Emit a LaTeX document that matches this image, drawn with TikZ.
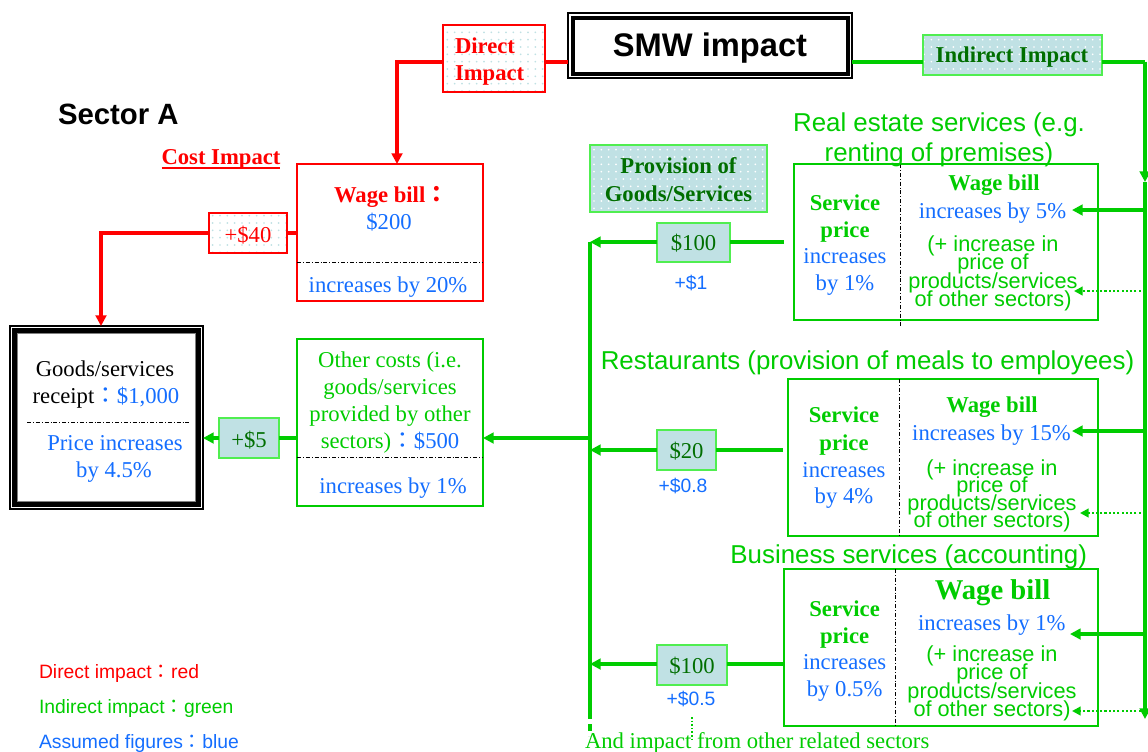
\documentclass[tikz,border=0pt]{standalone}
\usepackage{fontspec}
\setmainfont{Liberation Serif}
\setsansfont{Liberation Sans}
\newfontfamily\cjkfont{Noto Sans CJK TC}
\usetikzlibrary{arrows.meta,patterns.meta,fit}

\definecolor{rd}{RGB}{255,0,0}
\definecolor{gr}{RGB}{0,204,0}
\definecolor{bl}{RGB}{20,110,255}
\definecolor{dg}{RGB}{0,110,0}
\definecolor{lb}{RGB}{192,225,228}
\definecolor{lg}{RGB}{80,238,80}

\newcommand\fs[2]{\fontsize{#1}{#2}\selectfont}
\newcommand\wcolon{{\cjkfont ：}}

\begin{document}
\begin{tikzpicture}[x=0.75pt,y=-0.75pt,
  >={Triangle[length=8pt,width=8pt]},
  every node/.style={inner sep=0pt, outer sep=0pt},
  lbl/.style={anchor=base},
  lblw/.style={anchor=base west},
  serif/.style={font=\fs{17}{20}},
  serifb/.style={font=\bfseries\fs{17}{20}},
  note/.style={font=\sffamily\fs{16.3}{14}, text=gr},
  small/.style={font=\sffamily\fs{14.5}{17}},
  title/.style={font=\sffamily\fs{19.4}{23}, text=gr},
  rbox/.style={draw=rd, line width=1.5pt, fill=white},
  gbox/.style={draw=gr, line width=1.5pt, fill=white},
  sbox/.style={draw=gr, line width=1.1pt, fill=white},
  valbox/.style={draw=lg, line width=1pt, fill=lb},
  dotw/.style={preaction={fill=white}, pattern={Dots[distance=5.5pt,radius=0.7pt]}, pattern color=lb},
  dotb/.style={preaction={fill=lb}, pattern={Dots[distance=5.5pt,radius=0.7pt]}, pattern color=white},
  rline/.style={draw=rd, line width=3pt},
  gline/.style={draw=gr, line width=3pt},
  gdot/.style={draw=gr, line width=1.6pt, dash pattern=on 1.6pt off 1.6pt, -{Triangle[length=6.5pt,width=6.5pt]}},
  divider/.style={draw=black, line width=0.6pt, dash pattern=on 3pt off 1.5pt on 0.6pt off 1.5pt},
]
\useasboundingbox (0,0) rectangle (1148,751);
\fill[white] (0,0) rectangle (1148,751);

% ---------------- boxes ----------------
\node[draw=black, line width=0.8pt, fill=white, fit={(568,13)(852,78)}] (smw) {};
\draw[line width=3pt] ([shift={(4.5,4.5)}]smw.north west) rectangle ([shift={(-4.5,-4.5)}]smw.south east);

\node[rbox, dotw, fit={(443,25)(545,92)}] (direct) {};
\node[draw=lg, line width=1pt, dotb, fit={(923,35)(1102,75)}] (indirect) {};

\node[rbox, fit={(297,164)(483,301)}] (wage) {};
\draw[divider] (297,262) -- (483,262);

\node[rbox, dotw, fit={(209,213)(287,253)}] (p40) {};

\node[draw=black, line width=0.8pt, fill=white, fit={(10,326)(203,509)}] (goods) {};
\draw[line width=3.6pt] ([shift={(4.6,4.6)}]goods.north west) rectangle ([shift={(-4.6,-4.6)}]goods.south east);
\draw[gray, line width=0.5pt] ([shift={(7.6,7.6)}]goods.north west) rectangle ([shift={(-7.6,-7.6)}]goods.south east);
\draw[divider] (27,422) -- (190,422);

\node[valbox, fit={(219,418)(279,458)}] (p5) {};

\node[gbox, fit={(297,339)(483,506)}] (other) {};
\draw[divider] (297,457) -- (483,457);

\node[draw=lg, line width=1pt, dotb, fit={(590,145)(767,212)}] (prov) {};

\node[valbox, fit={(657,223)(730,262)}] (b1) {};
\node[valbox, fit={(657,430)(716,470)}] (b2) {};
\node[valbox, fit={(657,645)(727,685)}] (b3) {};

\node[sbox, fit={(794,164)(1098,320)}] (re) {};
\draw[divider] (900,164) -- (900,328);
\node[sbox, fit={(788,379)(1098,536)}] (rest) {};
\draw[divider] (899,379) -- (899,536);
\node[sbox, fit={(784,569)(1098,726)}] (bus) {};
\draw[divider] (895.6,569) -- (895.6,726);

% ---------------- connectors ----------------
\coordinate (lvl) at (0,61.5);
\draw[rline] (direct.east |- lvl) -- (smw.west |- lvl);
\coordinate (dturn) at (397,61.5);
\draw[rline,->] (direct.west |- lvl) -- (dturn) -- (dturn |- wage.north);

\coordinate (lvl40) at (0,233);
\draw[rline] (wage.west |- lvl40) -- (p40.east |- lvl40);
\coordinate (gturn) at (101,233);
\draw[rline,->] (p40.west |- lvl40) -- (gturn) -- (gturn |- goods.north);

\coordinate (lvl438) at (0,438);
\draw[gline] (other.west |- lvl438) -- (p5.east |- lvl438);
\draw[gline,->] (p5.west |- lvl438) -- (goods.east |- lvl438);

% collecting line of the supplying sectors
\coordinate (vtop) at (590,242);
\coordinate (vsol) at (590,708);
\coordinate (vend) at (590,736);
\coordinate (j438) at (590,438);
\draw[gline] (vtop) -- (vsol);
\draw[gline, dash pattern=on 8pt off 4pt on 5pt off 4pt] (vsol) -- (vend);
\draw[gline,->] (j438) -- (other.east |- lvl438);

\coordinate (re-in) at (784,242);
\draw[gline] (re-in) -- (b1.east |- re-in);
\draw[gline,->] (b1.west |- re-in) -- (vtop);

\coordinate (rest-in) at (783,450);
\draw[gline] (rest-in) -- (b2.east |- rest-in);
\draw[gline,->] (b2.west |- rest-in) -- (vtop |- rest-in);

\coordinate (bus-in) at (784,664);
\draw[gline] (bus.west |- bus-in) -- (b3.east |- bus-in);
\draw[gline,->] (b3.west |- bus-in) -- (vtop |- bus-in);

% indirect impact distribution line
\coordinate (rtop) at (1145,61.5);
\coordinate (rmid) at (1145,182);
\coordinate (rbot) at (1145,719);
\draw[gline] (smw.east |- lvl) -- (indirect.west |- lvl);
\draw[gline] (indirect.east |- lvl) -- (rtop);
\draw[gline,->] (rtop) -- (rmid);
\draw[gline,->] (rmid) -- (rbot);

\coordinate (re-w) at (1072,210);
\coordinate (re-o) at (1074,291);
\coordinate (rest-w) at (1072,431);
\coordinate (rest-o) at (1080,513);
\coordinate (bus-w) at (1070,634);
\coordinate (bus-o) at (1072,711);
\draw[gline,->] (rtop |- re-w) -- (re-w);
\draw[gdot] (rtop |- re-o) -- (re-o);
\draw[gline,->] (rtop |- rest-w) -- (rest-w);
\draw[gdot] (rtop |- rest-o) -- (rest-o);
\draw[gline,->] (rtop |- bus-w) -- (bus-w);
\draw[gdot] (rtop |- bus-o) -- (bus-o);

% ---------------- texts ----------------
\node[lbl, font=\sffamily\bfseries\fs{24.5}{28}] (smw-t) at (710,56) {SMW impact};
\node[lblw, serifb, text=rd] (dir-t1) at (455,53) {Direct};
\node[lblw, serifb, text=rd] (dir-t2) at (455,80.5) {Impact};
\node[lbl, serifb, text=dg] (ind-t) at (1012,62) {Indirect Impact};

\node[lblw, font=\sffamily\bfseries\fs{22}{26}] (sector) at (58,124.5) {Sector A};
\node[lbl, serifb, text=rd] (cost) at (221,164) {Cost Impact};
\draw[rd, line width=0.9pt] ([yshift=-3pt]cost.base west) -- ([yshift=-3pt]cost.base east);

\node[lbl, serifb, text=rd] (wage-t1) at (391,202) {Wage bill\wcolon};
\node[lbl, serif, text=bl] (wage-t2) at (389,229) {\$200};
\node[lbl, serif, text=bl] (wage-t3) at (388,292) {increases by 20\%};

\node[lbl, serif, text=rd] (p40-t) at (248,242) {+\$40};

\node[lbl, serif] (goods-t1) at (105,376) {Goods/services};
\node[lbl, serif] (goods-t2) at (106,403) {receipt{\color{bl}\wcolon\$1,000}};
\node[lbl, serif, text=bl] (goods-t3) at (115,450) {Price increases};
\node[lbl, serif, text=bl] (goods-t4) at (114,477) {by 4.5\%};

\node[lbl, serif, text=dg] (p5-t) at (249,447) {+\$5};

\node[lbl, serif, text=gr] (other-t1) at (390,367) {Other costs (i.e.};
\node[lbl, serif, text=gr] (other-t2) at (390,394) {goods/services};
\node[lbl, serif, text=gr] (other-t3) at (390,421) {provided by other};
\node[lbl, serif, text=gr] (other-t4) at (390,448) {sectors){\color{bl}\wcolon\$500}};
\node[lbl, serif, text=bl] (other-t5) at (393,493) {increases by 1\%};

\node[lbl, serifb, text=dg] (prov-t1) at (678.5,173) {Provision of};
\node[lbl, serifb, text=dg] (prov-t2) at (678.5,201) {Goods/Services};

\node[lbl, serif, text=dg] (b1-t) at (693.5,250) {\$100};
\node[lbl, small, text=bl] (b1-v) at (691,289) {+\$1};
\node[lbl, serif, text=dg] (b2-t) at (686.5,458) {\$20};
\node[lbl, small, text=bl] (b2-v) at (683,492) {+\$0.8};
\node[lbl, serif, text=dg] (b3-t) at (692,673) {\$100};
\node[lbl, small, text=bl] (b3-v) at (691,705) {+\$0.5};

\coordinate (more-a) at (692,717);
\coordinate (more-b) at (692,739);
\draw[gr, line width=1.2pt, dash pattern=on 1.2pt off 1.5pt] (more-a) -- (more-b);
\node[lblw, serif, text=gr] (more) at (585,748) {And impact from other related sectors};

% real estate services
\node[lbl, title] (re-h1) at (939,131) {Real estate services (e.g.};
\node[lbl, title] (re-h2) at (939,161) {renting of premises)};
\node[lbl, serifb, text=gr] (re-l1) at (845,210) {Service};
\node[lbl, serifb, text=gr] (re-l2) at (845,237) {price};
\node[lbl, serif, text=bl] (re-l3) at (845,263) {increases};
\node[lbl, serif, text=bl] (re-l4) at (845,290) {by 1\%};
\node[lbl, serifb, text=gr] (re-r1) at (994,190) {Wage bill};
\node[lbl, serif, text=bl] (re-r2) at (992.5,218) {increases by 5\%};
\node[lbl, note] (re-r3) at (993,251) {(+ increase in};
\node[lbl, note] (re-r4) at (993,269.5) {price of};
\node[lbl, note] (re-r5) at (993,288) {products/services};
\node[lbl, note] (re-r6) at (993,306) {of other sectors)};

% restaurants
\node[lbl, title] (rest-h) at (867.5,369) {Restaurants (provision of meals to employees)};
\node[lbl, serifb, text=gr] (rest-l1) at (844,422) {Service};
\node[lbl, serifb, text=gr] (rest-l2) at (844,450) {price};
\node[lbl, serif, text=bl] (rest-l3) at (844,477) {increases};
\node[lbl, serif, text=bl] (rest-l4) at (844,503) {by 4\%};
\node[lbl, serifb, text=gr] (rest-r1) at (992,412) {Wage bill};
\node[lbl, serif, text=bl] (rest-r2) at (991.5,440) {increases by 15\%};
\node[lbl, note] (rest-r3) at (992,475) {(+ increase in};
\node[lbl, note] (rest-r4) at (992,492.5) {price of};
\node[lbl, note] (rest-r5) at (992,510) {products/services};
\node[lbl, note] (rest-r6) at (992,527.5) {of other sectors)};

% business services
\node[lbl, title] (bus-h) at (908.7,563) {Business services (accounting)};
\node[lbl, serifb, text=gr] (bus-l1) at (844.6,616) {Service};
\node[lbl, serifb, text=gr] (bus-l2) at (844.6,643) {price};
\node[lbl, serif, text=bl] (bus-l3) at (844.6,669) {increases};
\node[lbl, serif, text=bl] (bus-l4) at (844.6,696) {by 0.5\%};
\node[lbl, font=\bfseries\fs{21.5}{24}, text=gr] (bus-r1) at (992.5,599) {Wage bill};
\node[lbl, serif, text=bl] (bus-r2) at (991.8,630) {increases by 1\%};
\node[lbl, note] (bus-r3) at (992,661) {(+ increase in};
\node[lbl, note] (bus-r4) at (992,679.5) {price of};
\node[lbl, note] (bus-r5) at (992,698) {products/services};
\node[lbl, note] (bus-r6) at (992,716) {of other sectors)};

% legend
\node[lblw, small, text=rd] (leg1) at (39,678) {Direct impact\wcolon red};
\node[lblw, small, text=gr] (leg2) at (39,713) {Indirect impact\wcolon green};
\node[lblw, small, text=bl] (leg3) at (39,748) {Assumed figures\wcolon blue};
\end{tikzpicture}
\end{document}
